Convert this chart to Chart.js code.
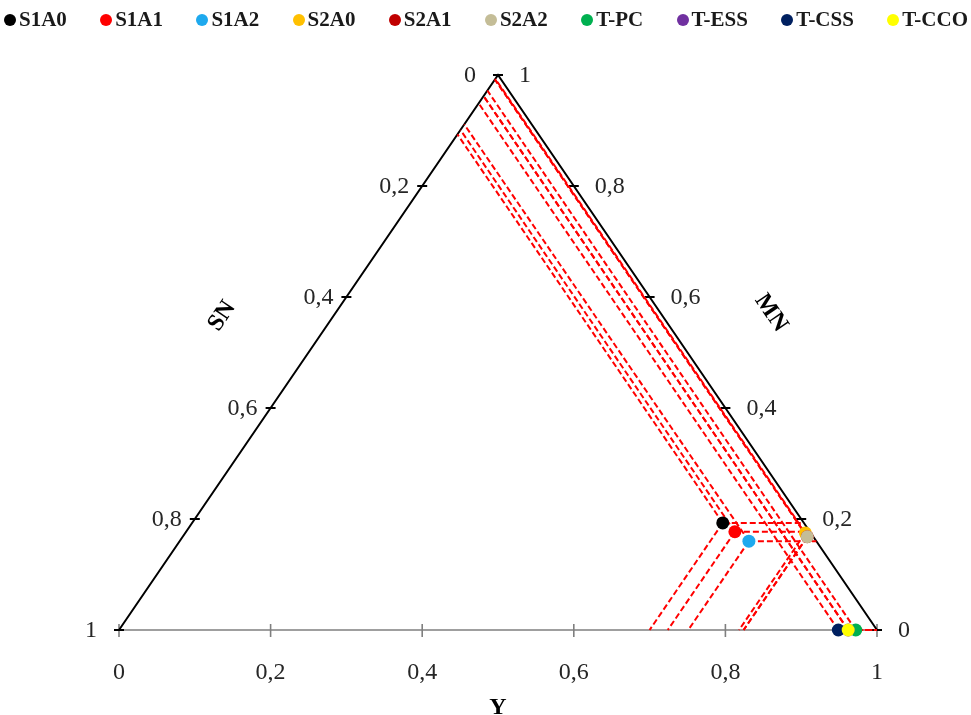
<!DOCTYPE html>
<html>
<head>
<meta charset="utf-8">
<script src="https://cdn.jsdelivr.net/npm/chart.js@4.4.0/dist/chart.umd.min.js"></script>
<style>
  body { margin: 0; background: #fff; }
  #wrap { position: relative; width: 971px; height: 715px; }
  #legend {
    position: absolute; top: 7px; left: 4px; right: 3px;
    display: flex; justify-content: space-between; align-items: center;
    font: bold 21px "Liberation Serif", "Times New Roman", serif; color: #1a1a1a;
  }
  #legend span.item { display: flex; align-items: center; white-space: nowrap; }
  #legend i { display: inline-block; width: 12px; height: 12px; border-radius: 50%; margin-right: 3px; }
</style>
</head>
<body>
<div id="wrap">
  <canvas id="chart"></canvas>
  <div id="legend"></div>
</div>
<script>
// samples, colours and composition (Y, MN); SN = 1 - Y - MN
const series = ['S1A0', 'S1A1', 'S1A2', 'S2A0', 'S2A1', 'S2A2', 'T-PC', 'T-ESS', 'T-CSS', 'T-CCO'];
const colors = ['#000000', '#ff0000', '#1ea9ee', '#ffc000', '#c00000', '#c4bd97', '#00b050', '#7030a0', '#002060', '#ffff00'];
const yValues = [0.700, 0.724, 0.751, 0.818, 0.824, 0.824, 0.972, 0.962, 0.949, 0.962];
const mnValues = [0.193, 0.177, 0.160, 0.175, 0.168, 0.168, 0, 0, 0, 0];

const tickValues = [0, 0.2, 0.4, 0.6, 0.8, 1];
const fmt = v => String(v).replace('.', ',');

// ternary -> cartesian (bottom axis = Y, apex = MN)
const toXY = (y, mn) => ({ x: y + mn / 2, y: mn });

const datasets = [];
series.forEach((name, i) => {
  datasets.push({
    label: name,
    data: [toXY(yValues[i], mnValues[i])],
    backgroundColor: colors[i],
    borderColor: colors[i],
    pointRadius: 6.5,
    pointHoverRadius: 6.5,
    borderWidth: 0,
    clip: false,
    order: -i
  });
});

// red dashed reading lines from each sample to the three sides
series.forEach((name, i) => {
  const y = yValues[i], mn = mnValues[i];
  const p = toXY(y, mn);
  const ends = [toXY(1 - mn, mn), toXY(0, y + mn), toXY(y, 0)];
  ends.forEach(e => {
    datasets.push({
      label: 'guide',
      data: [p, e],
      showLine: true,
      borderColor: '#ff0000',
      borderWidth: 2,
      borderDash: [6, 3],
      pointRadius: 0,
      clip: false,
      order: 20
    });
  });
});

const frame = {
  id: 'frame',
  beforeDatasetsDraw(chart) {
    const { ctx, scales: { x, y } } = chart;
    const px = p => [x.getPixelForValue(p.x), y.getPixelForValue(p.y)];
    const bl = px(toXY(0, 0)), br = px(toXY(1, 0)), top = px(toXY(0, 1));
    ctx.save();
    ctx.lineCap = 'butt';
    // bottom axis
    ctx.strokeStyle = '#7f7f7f';
    ctx.lineWidth = 1.6;
    ctx.beginPath(); ctx.moveTo(bl[0], bl[1]); ctx.lineTo(br[0], br[1]); ctx.stroke();
    tickValues.forEach(v => {
      const [tx, ty] = px(toXY(v, 0));
      ctx.beginPath(); ctx.moveTo(tx, ty - 6); ctx.lineTo(tx, ty + 7); ctx.stroke();
    });
    // SN and MN sides
    ctx.strokeStyle = '#000';
    ctx.lineWidth = 2;
    ctx.beginPath(); ctx.moveTo(bl[0], bl[1]); ctx.lineTo(top[0], top[1]); ctx.lineTo(br[0], br[1]); ctx.stroke();
    tickValues.forEach(v => {
      const [lx, ly] = px(toXY(0, 1 - v));
      ctx.beginPath(); ctx.moveTo(lx - 5, ly); ctx.lineTo(lx + 5, ly); ctx.stroke();
      const [rx, ry] = px(toXY(1 - v, v));
      ctx.beginPath(); ctx.moveTo(rx - 5, ry); ctx.lineTo(rx + 5, ry); ctx.stroke();
    });
    ctx.restore();
  },
  afterDatasetsDraw(chart) {
    const { ctx, scales: { x, y } } = chart;
    const px = p => [x.getPixelForValue(p.x), y.getPixelForValue(p.y)];
    ctx.save();
    ctx.fillStyle = '#262626';
    ctx.font = '24px "Liberation Serif", "Times New Roman", serif';
    ctx.textBaseline = 'middle';
    tickValues.forEach(v => {
      const [bx, by] = px(toXY(v, 0));
      ctx.textAlign = 'center';
      ctx.fillText(fmt(v), bx, by + 43);
      const [lx, ly] = px(toXY(0, 1 - v));
      ctx.fillText(fmt(v), lx - 28, ly + 1);
      const [rx, ry] = px(toXY(1 - v, v));
      ctx.textAlign = 'left';
      ctx.fillText(fmt(v), rx + 21, ry + 1);
    });
    // side titles
    ctx.fillStyle = '#000';
    ctx.font = 'bold 24px "Liberation Serif", "Times New Roman", serif';
    ctx.textAlign = 'center';
    const [yx, yy] = px(toXY(0.5, 0));
    ctx.fillText('Y', yx, yy + 78);
    const bl = px(toXY(0, 0)), top = px(toXY(0, 1)), br = px(toXY(1, 0));
    const ang = Math.atan2(top[1] - bl[1], top[0] - bl[0]);
    ctx.save();
    ctx.translate(222, 316);
    ctx.rotate(ang);
    ctx.fillText('SN', 0, 0);
    ctx.restore();
    ctx.save();
    ctx.translate(771, 313);
    ctx.rotate(Math.atan2(br[1] - top[1], br[0] - top[0]));
    ctx.fillText('MN', 0, 0);
    ctx.restore();
    ctx.restore();
  }
};

new Chart(document.getElementById('chart'), {
  type: 'scatter',
  data: { datasets },
  options: {
    responsive: true,
    maintainAspectRatio: false,
    devicePixelRatio: 1,
    animation: false,
    layout: { padding: { left: 119, right: 94, top: 75, bottom: 85 } },
    scales: {
      x: { type: 'linear', min: 0, max: 1, display: false },
      y: { type: 'linear', min: 0, max: 1, display: false }
    },
    plugins: {
      legend: { display: false },
      tooltip: { enabled: false }
    }
  },
  plugins: [frame]
});

// legend
const legend = document.getElementById('legend');
series.forEach((name, i) => {
  const item = document.createElement('span');
  item.className = 'item';
  item.innerHTML = `<i style="background:${colors[i]}"></i>${name}`;
  legend.appendChild(item);
});
</script>
</body>
</html>
